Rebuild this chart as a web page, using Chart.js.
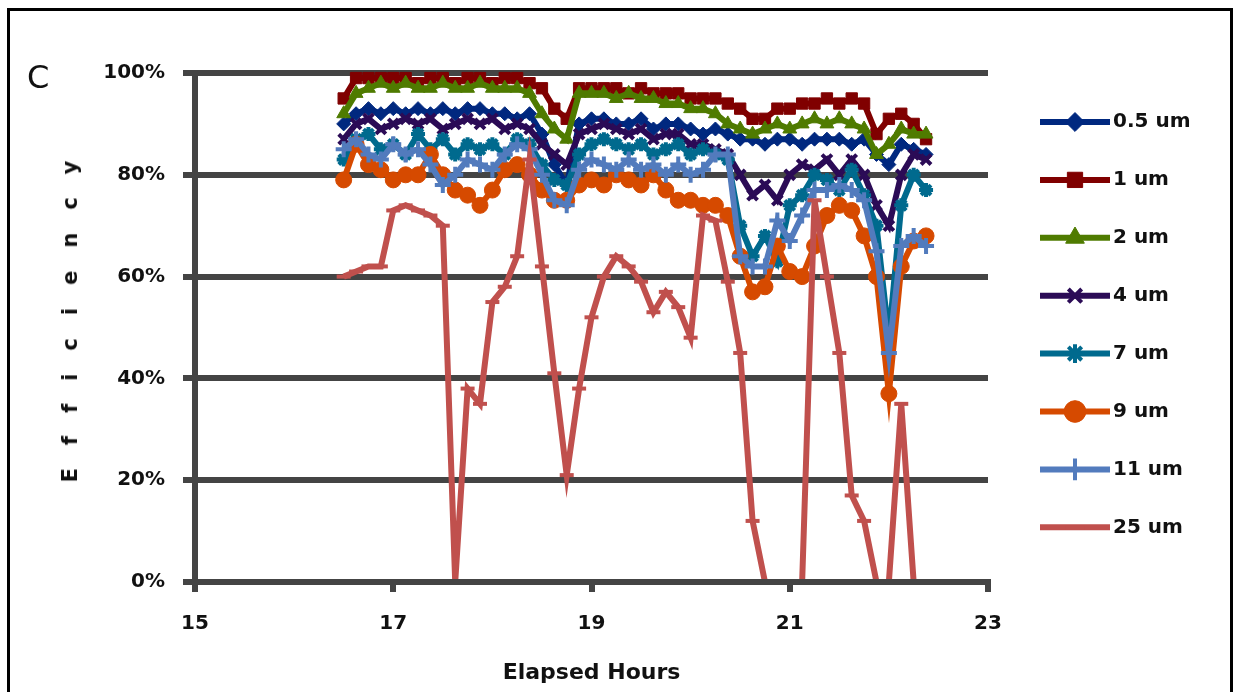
<!DOCTYPE html>
<html>
<head>
<meta charset="utf-8">
<script src="https://cdn.jsdelivr.net/npm/chart.js@4.4.1/dist/chart.umd.min.js"></script>
<style>
  html, body { margin: 0; padding: 0; background: #fff; }
  #wrap { position: relative; width: 1241px; height: 692px; overflow: hidden; }
  #frame { position: absolute; left: 7px; top: 8px; width: 1220px; height: 720px; border: 3px solid #000; }
  #panel { position: absolute; left: 27px; top: 58px; font: 32px "DejaVu Sans"; color: #111; }
  #ytitle { position: absolute; left: 70px; top: 310px; transform: translate(-50%, -50%) rotate(-90deg);
            font: bold 21px "DejaVu Sans"; letter-spacing: 23px; white-space: nowrap; color: #111; }
  canvas { position: absolute; left: 0; top: 0; }
</style>
</head>
<body>
<div id="wrap">
  <div id="frame"></div>
  <canvas id="chart" width="1241" height="692"></canvas>
  <div id="panel">C</div>
  <div id="ytitle">Efficiency</div>
</div>
<script>
// elapsed hours (x values)
const hours = [16.5, 16.625, 16.75, 16.875, 17, 17.125, 17.25, 17.375, 17.5, 17.625, 17.75, 17.875,
               18, 18.125, 18.25, 18.375, 18.5, 18.625, 18.75, 18.875, 19, 19.125, 19.25, 19.375,
               19.5, 19.625, 19.75, 19.875, 20, 20.125, 20.25, 20.375, 20.5, 20.625, 20.75, 20.875,
               21, 21.125, 21.25, 21.375, 21.5, 21.625, 21.75, 21.875, 22, 22.125, 22.25, 22.375];

// efficiency per particle size, %
const um05 = [90,92,93,92,93,92,93,92,93,92,93,93,92,92,91,92,88,82,78,90,91,91,90,90,91,89,90,90,89,88,89,88,87,87,86,87,87,86,87,87,87,86,87,84,82,86,85,84];
const um1  = [95,99,99,99,99,99,98,99,99,98,99,99,98,99,99,98,97,93,91,97,97,97,97,96,97,96,96,96,95,95,95,94,93,91,91,93,93,94,94,95,94,95,94,88,91,92,90,87];
const um2  = [92,96,97,98,97,98,97,97,98,97,97,98,97,97,97,96,92,89,87,96,96,96,95,96,95,95,94,94,93,93,92,90,89,88,89,90,89,90,91,90,91,90,89,84,86,89,88,88];
const um4  = [87,90,91,89,90,91,90,91,89,90,91,90,91,89,90,89,86,84,82,88,89,90,89,88,89,87,88,88,86,86,85,84,80,76,78,75,80,82,81,83,80,83,80,74,70,80,84,83];
const um7  = [83,87,88,85,86,84,88,85,87,84,86,85,86,84,87,86,82,79,78,84,86,87,86,85,86,84,85,86,84,85,84,83,70,64,68,63,74,76,80,79,77,81,76,70,48,74,80,77];
const um9  = [79,86,82,81,79,80,80,84,80,77,76,74,77,81,82,80,77,75,75,78,79,78,80,79,78,80,77,75,75,74,74,72,64,57,58,66,61,60,66,72,74,73,68,60,37,62,67,68];
const um11 = [85,87,84,83,86,84,85,82,78,80,83,82,81,84,86,85,80,75,74,81,83,82,81,83,81,82,80,82,80,81,84,84,64,62,62,71,67,72,77,77,78,77,75,65,45,66,68,66];
const um25 = [60,61,62,62,73,74,73,72,70,0,38,35,55,58,64,83,62,41,21,38,52,60,64,62,59,53,57,54,48,72,71,59,45,12,0,0,0,0,75,60,45,17,12,0,0,35,0,null];

const seriesNames = ["0.5 um", "1 um", "2 um", "4 um", "7 um", "9 um", "11 um", "25 um"];
const seriesData = [um05, um1, um2, um4, um7, um9, um11, um25];
const seriesColors = ["#00287F", "#800000", "#4F7B00", "#2B0B56", "#006A8E", "#D64A00", "#527BBD", "#C0504D"];
const markerStyles = ["rectRot", "rect", "triangle", "crossRot", "star", "circle", "cross", "line"];
const markerSizes = [7, 8, 8, 7, 7, 8, 8, 7];

const yTicks = [0, 20, 40, 60, 80, 100];
const xTicks = [15, 17, 19, 21, 23];

const datasets = seriesNames.map((name, i) => ({
    label: name,
    data: hours.map((h, k) => ({ x: h, y: seriesData[i][k] })),
    borderColor: seriesColors[i],
    backgroundColor: seriesColors[i],
    pointBackgroundColor: seriesColors[i],
    pointBorderColor: seriesColors[i],
    pointStyle: markerStyles[i],
    pointRadius: markerSizes[i],
    pointBorderWidth: (i === 3 || i === 4 || i === 6 || i === 7) ? 4 : 1,
    borderWidth: 6,
    tension: 0,
    // lines at 0% tuck under the x axis, everything else may overflow the top
    clip: { left: false, top: false, right: false, bottom: -3 },
    order: seriesNames.length - i
}));

// legend drawn at the right, line + marker + label
const sideLegend = {
    id: "sideLegend",
    afterDraw(chart) {
        const ctx = chart.ctx;
        const x0 = chart.chartArea.right + 52;
        chart.data.datasets.forEach((ds, i) => {
            const y = 122 + i * 57.9;
            ctx.save();
            ctx.strokeStyle = ds.borderColor;
            ctx.lineWidth = 6;
            ctx.beginPath();
            ctx.moveTo(x0, y);
            ctx.lineTo(x0 + 70, y);
            ctx.stroke();
            ctx.fillStyle = ds.pointBackgroundColor;
            ctx.strokeStyle = ds.pointBorderColor;
            ctx.lineWidth = ds.pointBorderWidth;
            Chart.helpers.drawPoint(ctx, {
                pointStyle: ds.pointStyle,
                radius: ds.pointRadius * 1.35,
                rotation: 0,
                borderWidth: ds.pointBorderWidth
            }, x0 + 35, y);
            ctx.fillStyle = "#111";
            ctx.font = 'bold 20px "DejaVu Sans"';
            ctx.textBaseline = "middle";
            ctx.textAlign = "left";
            ctx.fillText(ds.label, x0 + 73, y);
            ctx.restore();
        });
    }
};

const ctx = document.getElementById("chart").getContext("2d");
new Chart(ctx, {
    type: "line",
    data: { datasets },
    plugins: [sideLegend],
    options: {
        responsive: false,
        animation: false,
        layout: { padding: { left: 0, top: 73, right: 253, bottom: 0 } },
        plugins: { legend: { display: false }, tooltip: { enabled: false } },
        scales: {
            x: {
                type: "linear",
                min: 15,
                max: 23,
                afterBuildTicks: s => { s.ticks = xTicks.map(v => ({ value: v })); },
                ticks: { color: "#111", font: { family: "DejaVu Sans", size: 20, weight: "bold" }, padding: 20 },
                grid: { drawOnChartArea: false, color: "#444", lineWidth: 6, tickLength: 10 },
                border: { color: "#444", width: 6 },
                title: { display: true, text: "Elapsed Hours", color: "#111",
                         font: { family: "DejaVu Sans", size: 22, weight: "bold" }, padding: { top: 0, bottom: 6 } },
                afterFit: s => { s.height = 110; }
            },
            y: {
                min: 0,
                max: 100,
                afterBuildTicks: s => { s.ticks = yTicks.map(v => ({ value: v })); },
                ticks: { color: "#111", font: { family: "DejaVu Sans", size: 20, weight: "bold" }, padding: 18,
                         callback: v => v + "%" },
                grid: { color: "#444", lineWidth: 6, tickLength: 12 },
                border: { color: "#444", width: 6 },
                afterFit: s => { s.width = 195; }
            }
        }
    }
});
</script>
</body>
</html>
